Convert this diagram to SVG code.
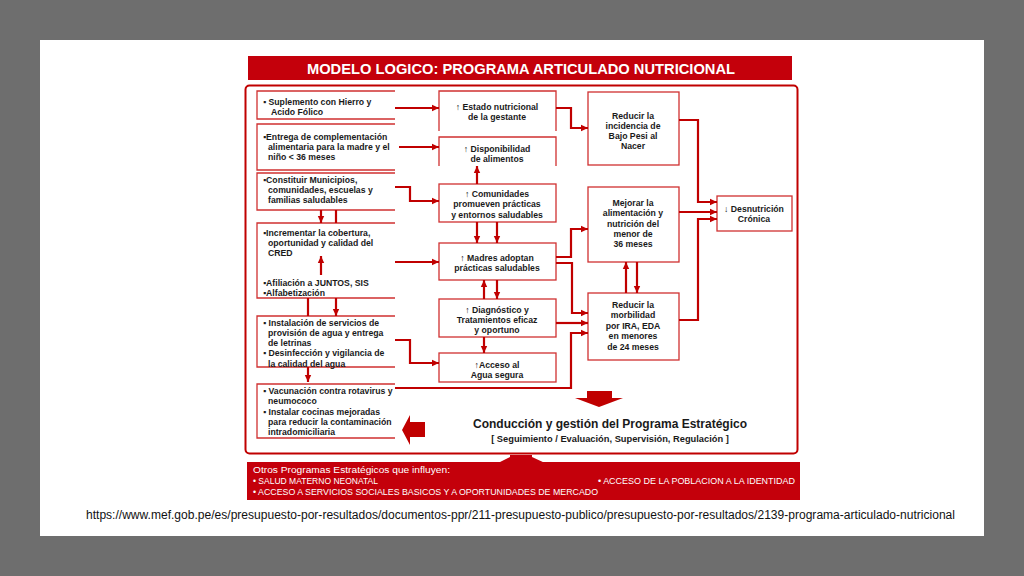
<svg xmlns="http://www.w3.org/2000/svg" width="1024" height="576" viewBox="0 0 1024 576">
<defs>
<marker id="ah" markerUnits="userSpaceOnUse" markerWidth="8" markerHeight="8" refX="7" refY="4" orient="auto">
<path d="M0,0.8 L7,4 L0,7.2 Z" fill="#c00000"/>
</marker>
<style>
.box{fill:none;stroke:#d03030;stroke-width:1.3}
.c{fill:none;stroke:#c00000;stroke-width:2.2}
.ca{fill:none;stroke:#c00000;stroke-width:2.2;marker-end:url(#ah)}
.t{font-family:"Liberation Sans",Arial,sans-serif;font-weight:bold;font-size:8.7px;fill:#1a1a1a}
.m{text-anchor:middle}
.w{font-family:"Liberation Sans",Arial,sans-serif;font-size:8.3px;fill:#ffffff}
</style>
</defs>
<rect x="0" y="0" width="1024" height="576" fill="#6e6e6e"/>
<rect x="40" y="40" width="944" height="496" fill="#ffffff"/>

<g id="title">
<rect x="248" y="56" width="544" height="24" fill="#c4000b"/>
<text x="521" y="73.5" text-anchor="middle" font-family="Liberation Sans,Arial,sans-serif" font-weight="bold" font-size="14.7" fill="#ffffff">MODELO LOGICO: PROGRAMA ARTICULADO NUTRICIONAL</text>
</g>

<g id="frame">
<rect x="245.5" y="85.5" width="552" height="368" rx="4" fill="none" stroke="#c00000" stroke-width="2"/>
</g>

<g id="left1">
<path class="box" d="M395,91 H257 V119 H395"/>
<text class="t"><tspan x="263" y="105">▪ Suplemento con Hierro y</tspan><tspan x="271" y="115">Acido Fólico</tspan></text>
</g>
<g id="left2">
<path class="box" d="M395,124 H257 V170 H395"/>
<text class="t"><tspan x="263" y="140">▪Entrega de complementación</tspan><tspan x="268" y="150">alimentaria para la madre y el</tspan><tspan x="268" y="160">niño &lt; 36 meses</tspan></text>
</g>
<g id="left3">
<path class="box" d="M395,173 H257 V210 H395"/>
<text class="t"><tspan x="263" y="183">▪Constituir Municipios,</tspan><tspan x="268" y="193">comunidades, escuelas y</tspan><tspan x="268" y="203">familias saludables</tspan></text>
</g>
<g id="left4">
<path class="box" d="M395,223 H257 V298 H395"/>
<text class="t"><tspan x="263" y="236">▪Incrementar la cobertura,</tspan><tspan x="268" y="246">oportunidad y calidad del</tspan><tspan x="268" y="256">CRED</tspan></text>
<text class="t"><tspan x="263" y="286">▪Afiliación a JUNTOS, SIS</tspan><tspan x="263" y="296">▪Alfabetización</tspan></text>
</g>
<g id="left5">
<path class="box" d="M395,316 H257 V367 H395"/>
<text class="t"><tspan x="263" y="326">▪ Instalación de servicios de</tspan><tspan x="268" y="336">provisión de agua y entrega</tspan><tspan x="268" y="346">de letrinas</tspan><tspan x="263" y="356">▪ Desinfección y vigilancia de</tspan><tspan x="268" y="367">la calidad del agua</tspan></text>
</g>
<g id="left6">
<path class="box" d="M395,384 H257 V438 H395"/>
<text class="t"><tspan x="263" y="394">▪ Vacunación contra rotavirus y</tspan><tspan x="268" y="404">neumococo</tspan><tspan x="263" y="415">▪ Instalar cocinas mejoradas</tspan><tspan x="268" y="425">para reducir la contaminación</tspan><tspan x="268" y="435">intradomiciliaria</tspan></text>
</g>

<g id="mid1">
<path class="box" d="M439,131 V91 H556 V131"/>
<text class="t m"><tspan x="497" y="110">↑ Estado nutricional</tspan><tspan x="497" y="120">de la gestante</tspan></text>
</g>
<g id="mid2">
<path class="box" d="M439,166 V137 H556 V166"/>
<text class="t m"><tspan x="497" y="152">↑ Disponibilidad</tspan><tspan x="497" y="162">de alimentos</tspan></text>
</g>
<g id="mid3">
<rect class="box" x="439" y="184" width="117" height="38"/>
<text class="t m"><tspan x="497" y="197">↑ Comunidades</tspan><tspan x="497" y="207">promueven prácticas</tspan><tspan x="497" y="218">y entornos saludables</tspan></text>
</g>
<g id="mid4">
<rect class="box" x="439" y="243" width="117" height="37"/>
<text class="t m"><tspan x="497" y="261">↑ Madres adoptan</tspan><tspan x="497" y="271">prácticas saludables</tspan></text>
</g>
<g id="mid5">
<rect class="box" x="439" y="299" width="117" height="38"/>
<text class="t m"><tspan x="497" y="313">↑ Diagnóstico y</tspan><tspan x="497" y="323">Tratamientos eficaz</tspan><tspan x="497" y="333">y oportuno</tspan></text>
</g>
<g id="mid6">
<rect class="box" x="439" y="353" width="117" height="29"/>
<text class="t m"><tspan x="497" y="368">↑Acceso al</tspan><tspan x="497" y="378">Agua segura</tspan></text>
</g>

<g id="right1">
<rect class="box" x="588" y="92" width="91" height="73"/>
<text class="t m"><tspan x="633" y="119">Reducir la</tspan><tspan x="633" y="129">incidencia de</tspan><tspan x="633" y="139">Bajo Pesi al</tspan><tspan x="633" y="149">Nacer</tspan></text>
</g>
<g id="right2">
<rect class="box" x="588" y="187" width="91" height="75"/>
<text class="t m"><tspan x="633" y="206">Mejorar la</tspan><tspan x="633" y="216">alimentación y</tspan><tspan x="633" y="227">nutrición del</tspan><tspan x="633" y="237">menor de</tspan><tspan x="633" y="247">36 meses</tspan></text>
</g>
<g id="right3">
<rect class="box" x="588" y="293" width="91" height="67"/>
<text class="t m"><tspan x="633" y="308">Reducir la</tspan><tspan x="633" y="318">morbilidad</tspan><tspan x="633" y="329">por IRA, EDA</tspan><tspan x="633" y="339">en menores</tspan><tspan x="633" y="350">de 24 meses</tspan></text>
</g>
<g id="desnutricion">
<rect class="box" x="717" y="196" width="75" height="35"/>
<text class="t m"><tspan x="754" y="212">↓ Desnutrición</tspan><tspan x="754" y="222">Crónica</tspan></text>
</g>

<g id="connectors">
<path class="ca" d="M395,108 H439"/>
<path class="ca" d="M399,147 H439"/>
<path class="ca" d="M395,187 H410 V201 H439"/>
<path class="ca" d="M395,262 H439"/>
<path class="ca" d="M395,340 H410 V363 H439"/>
<path class="ca" d="M395,388 H571 V333 H588"/>
<path class="ca" d="M321,210 V223"/>
<path class="c" d="M336,210 V223"/>
<path class="ca" d="M321,275 V256"/>
<path class="c" d="M308,298 V316"/>
<path class="ca" d="M336,298 V316"/>
<path class="ca" d="M308,367 V382"/>
<path class="ca" d="M477,184 V166"/>
<path class="ca" d="M477,222 V243"/>
<path class="ca" d="M497,222 V243"/>
<path class="ca" d="M484,299 V280"/>
<path class="ca" d="M497,280 V299"/>
<path class="ca" d="M484,337 V353"/>
<path class="ca" d="M556,108 H571 V128 H588"/>
<path class="ca" d="M556,257 H571 V229 H588"/>
<path class="ca" d="M556,263 H572 V313 H588"/>
<path class="ca" d="M556,323 H588"/>
<path class="ca" d="M679,120 H698 V202 H717"/>
<path class="ca" d="M679,212 H717"/>
<path class="ca" d="M679,320 H698 V219 H717"/>
<path class="ca" d="M626,293 V262"/>
<path class="ca" d="M637,262 V293"/>
</g>

<g id="big-arrows">
<polygon points="425,422 410,422 410,415 402,430 410,445 410,437 425,437" fill="#c00000"/>
<polygon points="587,391 612,391 612,398 623,398 599,407 575,398 587,398" fill="#c00000"/>
</g>

<g id="conduccion">
<text x="610" y="428" text-anchor="middle" font-family="Liberation Sans,Arial,sans-serif" font-weight="bold" font-size="12" fill="#1a1a1a">Conducción y gestión del Programa Estratégico</text>
<text x="610" y="442" text-anchor="middle" font-family="Liberation Sans,Arial,sans-serif" font-weight="bold" font-size="9.3" fill="#1a1a1a">[ Seguimiento / Evaluación, Supervisión, Regulación ]</text>
</g>

<g id="otros">
<polygon points="498,463 510,457 510,455 532,455 532,457 545,463" fill="#c4000b"/>
<rect x="247" y="462" width="553" height="38" fill="#c4000b"/>
<text class="w" x="253" y="473" textLength="197" lengthAdjust="spacingAndGlyphs">Otros Programas Estratégicos que influyen:</text>
<text class="w" x="253" y="484" textLength="125" lengthAdjust="spacingAndGlyphs">• SALUD MATERNO NEONATAL</text>
<text class="w" x="598" y="484" textLength="197" lengthAdjust="spacingAndGlyphs">• ACCESO DE LA POBLACION A LA IDENTIDAD</text>
<text class="w" x="253" y="495" textLength="345" lengthAdjust="spacingAndGlyphs">• ACCESO A SERVICIOS  SOCIALES BASICOS Y A OPORTUNIDADES  DE MERCADO</text>
</g>

<text x="86" y="519" font-family="Liberation Sans,Arial,sans-serif" font-size="12" fill="#111111" textLength="869" lengthAdjust="spacingAndGlyphs">https://www.mef.gob.pe/es/presupuesto-por-resultados/documentos-ppr/211-presupuesto-publico/presupuesto-por-resultados/2139-programa-articulado-nutricional</text>
</svg>
